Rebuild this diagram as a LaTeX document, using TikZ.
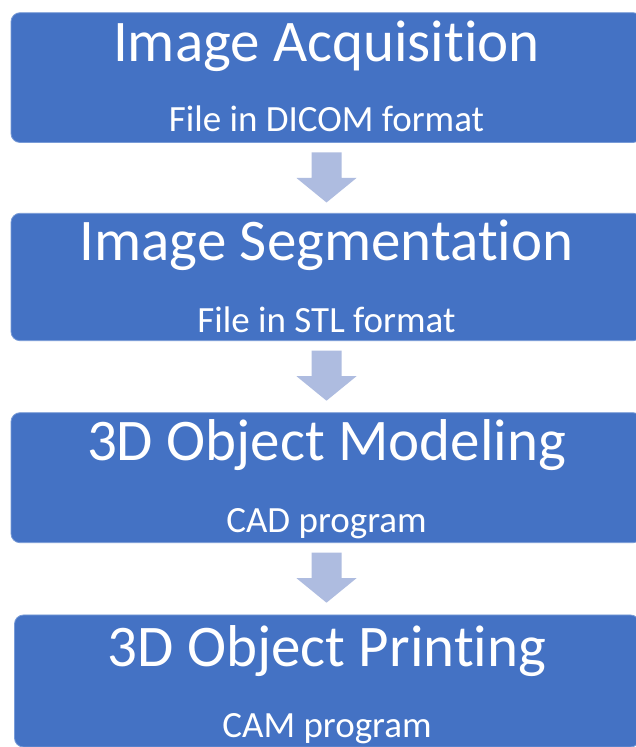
\documentclass[tikz,border=0pt]{standalone}
\usepackage{fontspec}
\setmainfont{Carlito}[Ligatures={NoCommon,NoContextual}]
\usetikzlibrary{calc}
\definecolor{boxblue}{RGB}{68,114,196}
\definecolor{boxedge}{RGB}{120,155,215}
\definecolor{arrowblue}{RGB}{174,188,224}
\tikzset{
  stage/.style={draw=boxedge, line width=0.8pt, fill=boxblue, rounded corners=9pt,
    inner sep=0pt, outer sep=0pt},
  titletext/.style={text=white, anchor=base, inner sep=0pt,
    font=\fontsize{59}{60}\selectfont},
  subtext/.style={text=white, anchor=base, inner sep=0pt,
    font=\fontsize{37}{40}\selectfont},
  blockarrow/.style={fill=arrowblue, draw=none}
}
\begin{document}
\begin{tikzpicture}[x=1pt,y=1pt]
\useasboundingbox (0,0) rectangle (636,747);
\fill[white] (0,0) rectangle (636,747);
% stages
\node[stage, minimum width=631pt, minimum height=129.8pt] (b1) at (326.5,669.4) {};
\node[stage, minimum width=631pt, minimum height=127.4pt] (b2) at (326.5,470) {};
\node[stage, minimum width=631pt, minimum height=130pt] (b3) at (326.5,269.3) {};
\node[stage, minimum width=625pt, minimum height=132pt] (b4) at (327,66) {};
% texts
\node[titletext] (t1) at ($(b1.north)+(0,-48.5)$) {Image Acquisition};
\node[subtext]   (s1) at ($(b1.north)+(0,-119)$) {File in DICOM format};
\node[titletext] (t2) at ($(b2.north)+(0,-47.7)$) {Image Segmentation};
\node[subtext]   (s2) at ($(b2.north)+(0,-119.4)$) {File in STL format};
\node[titletext] (t3) at ($(b3.north)+(0,-48.3)$) {3D Object Modeling};
\node[subtext]   (s3) at ($(b3.north)+(0,-120)$) {CAD program};
\node[titletext] (t4) at ($(b4.north)+(0,-51.7)$) {3D Object Printing};
\node[subtext]   (s4) at ($(b4.north)+(0,-122.3)$) {CAM program};
% block arrows
\foreach \a in {b1,b2,b3}{
  \fill[blockarrow] ($(\a.south)+(-15,-10)$) -- ++(30,0) -- ++(0,-25.5)
    -- ++(15,0) -- ++(-30,-24.5) -- ++(-30,24.5) -- ++(15,0) -- cycle;
}
\end{tikzpicture}
\end{document}
